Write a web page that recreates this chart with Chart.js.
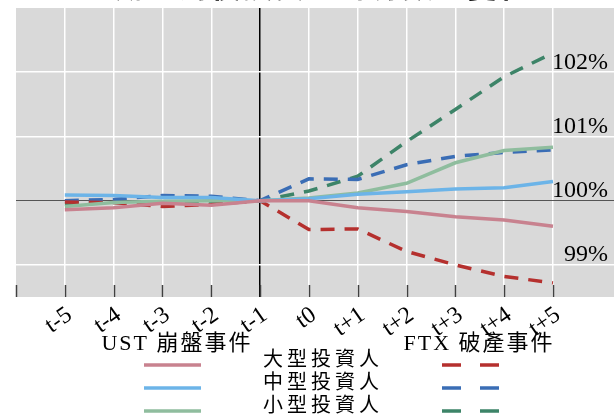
<!DOCTYPE html>
<html>
<head>
<meta charset="utf-8">
<script src="https://cdn.jsdelivr.net/npm/chart.js@4.4.1/dist/chart.umd.min.js"></script>
<style>
  html, body { margin: 0; padding: 0; background: #fff; }
  #wrap { width: 614px; height: 414px; position: relative; }
</style>
</head>
<body>
<div id="wrap"><canvas id="myChart" width="614" height="414"></canvas></div>
<script>
// -------------  DATA  -------------
const titleText   = '崩盤前後投資人持有數量變化';
const periods     = ['t-5', 't-4', 't-3', 't-2', 't-1', 't0', 't+1', 't+2', 't+3', 't+4', 't+5'];
const periodIndex = [-5, -4, -3, -2, -1, 0, 1, 2, 3, 4, 5];
const yTicks      = [99, 100, 101, 102];
const groupNames  = ['大型投資人', '中型投資人', '小型投資人'];
const eventNames  = ['UST 崩盤事件', 'FTX 破產事件'];

// UST (solid)
const ustLarge  = [99.86, 99.89, 99.96, 99.93, 100.0, 100.0, 99.89, 99.83, 99.75, 99.70, 99.60];
const ustMid    = [100.09, 100.08, 100.05, 100.05, 100.0, 100.03, 100.10, 100.14, 100.18, 100.20, 100.30];
const ustSmall  = [99.91, 99.97, 99.99, 100.0, 100.0, 100.04, 100.12, 100.27, 100.59, 100.78, 100.83];
// FTX (dashed)
const ftxLarge  = [99.98, 99.97, 99.91, 99.94, 100.0, 99.55, 99.56, 99.21, 99.00, 98.82, 98.72];
const ftxMid    = [100.0, 100.02, 100.08, 100.07, 100.0, 100.34, 100.33, 100.56, 100.69, 100.75, 100.79];
const ftxSmall  = [99.95, 99.97, 99.98, 99.97, 100.0, 100.15, 100.38, 100.92, 101.42, 101.93, 102.30];

const solidColors  = ['#C8828F', '#6CB4E8', '#8FBD9E'];
const dashedColors = ['#B5302E', '#3A6DB5', '#3D8468'];
const DASH = [14, 10];
const SERIF = '"Liberation Serif", "Noto Sans CJK TC", serif';
//============================================================================

function toPoints(values) {
    return values.map((v, i) => ({ x: periodIndex[i], y: v }));
}

function makeSet(label, values, color, dashed) {
    return {
        label: label,
        data: toPoints(values),
        borderColor: color,
        backgroundColor: color,
        borderWidth: 3.5,
        borderDash: dashed ? DASH : [],
        pointRadius: 0,
        tension: 0,
        fill: false
    };
}

const datasets = [
    makeSet('UST ' + groupNames[0], ustLarge, solidColors[0], false),
    makeSet('UST ' + groupNames[1], ustMid,   solidColors[1], false),
    makeSet('UST ' + groupNames[2], ustSmall, solidColors[2], false),
    makeSet('FTX ' + groupNames[0], ftxLarge, dashedColors[0], true),
    makeSet('FTX ' + groupNames[1], ftxMid,   dashedColors[1], true),
    makeSet('FTX ' + groupNames[2], ftxSmall, dashedColors[2], true)
];

// gray panel behind the plot
const panelBg = {
    id: 'panelBg',
    beforeDraw(chart) {
        const { ctx, chartArea: a } = chart;
        ctx.save();
        ctx.fillStyle = '#D9D9D9';
        ctx.fillRect(a.left, a.top, a.right - a.left, a.bottom - a.top);
        ctx.restore();
    }
};

// tick marks point up into the plot from its bottom edge
const innerTicks = {
    id: 'innerTicks',
    beforeDatasetsDraw(chart) {
        const { ctx, chartArea: a } = chart;
        const xs = chart.scales.x;
        ctx.save();
        ctx.strokeStyle = '#404040';
        ctx.lineWidth = 1.5;
        xs.ticks.forEach(t => {
            const px = Math.round(xs.getPixelForValue(t.value)) + 0.5;
            ctx.beginPath();
            ctx.moveTo(px, a.bottom);
            ctx.lineTo(px, a.bottom - 12);
            ctx.stroke();
        });
        ctx.restore();
    }
};

// cropped title + two-column legend under the axis
const extras = {
    id: 'extras',
    afterDraw(chart) {
        const ctx = chart.ctx;
        ctx.save();
        ctx.fillStyle = '#000';
        ctx.textAlign = 'center';
        ctx.textBaseline = 'bottom';
        ctx.font = 'bold 30px ' + SERIF;
        ctx.letterSpacing = '2px';
        ctx.fillText(titleText, 323, 4);

        ctx.textBaseline = 'middle';
        ctx.font = '22px ' + SERIF;
        ctx.letterSpacing = '2px';
        ctx.fillText(eventNames[0], 177, 344);
        ctx.fillText(eventNames[1], 479, 344);

        ctx.font = '20px ' + SERIF;
        ctx.letterSpacing = '4px';
        groupNames.forEach((name, i) => {
            const ty = 361 + i * 23;
            const ly = 365 + i * 23;
            ctx.fillStyle = '#000';
            ctx.fillText(name, 323, ty);

            ctx.lineWidth = 3.5;
            ctx.strokeStyle = solidColors[i];
            ctx.setLineDash([]);
            ctx.beginPath();
            ctx.moveTo(144, ly);
            ctx.lineTo(201, ly);
            ctx.stroke();

            ctx.strokeStyle = dashedColors[i];
            ctx.setLineDash([19, 19]);
            ctx.beginPath();
            ctx.moveTo(442, ly);
            ctx.lineTo(500, ly);
            ctx.stroke();
        });
        ctx.restore();
    }
};

const ctx = document.getElementById('myChart').getContext('2d');
const chart = new Chart(ctx, {
    type: 'line',
    data: { datasets: datasets },
    plugins: [panelBg, innerTicks, extras],
    options: {
        responsive: false,
        animation: false,
        devicePixelRatio: 1,
        layout: { padding: { left: 16, top: 8, right: 0, bottom: 0 } },
        plugins: {
            legend: { display: false },
            title: { display: false },
            tooltip: { enabled: false }
        },
        scales: {
            x: {
                type: 'linear',
                min: -6,
                max: 6.25,
                afterBuildTicks: s => { s.ticks = [-6].concat(periodIndex).map(v => ({ value: v })); },
                afterFit: s => { s.height = 117; s.paddingLeft = 0; s.paddingRight = 0; },
                border: { display: false },
                grid: {
                    drawTicks: false,
                    lineWidth: 1.5,
                    color: c => {
                        const v = c.tick ? c.tick.value : null;
                        if (v === -6) return 'rgba(0,0,0,0)';
                        if (v === -1) return '#000';
                        return '#FFFFFF';
                    }
                },
                ticks: {
                    autoSkip: false,
                    minRotation: 35,
                    maxRotation: 35,
                    padding: 4,
                    labelOffset: 5,
                    color: '#000',
                    font: { size: 24, family: SERIF },
                    callback: v => {
                        const i = periodIndex.indexOf(v);
                        return i >= 0 ? periods[i] : '';
                    }
                }
            },
            y: {
                position: 'right',
                min: 98.5,
                max: 103,
                afterBuildTicks: s => { s.ticks = yTicks.map(v => ({ value: v })); },
                afterFit: s => { s.width = 0; s.paddingTop = 0; s.paddingBottom = 0; },
                border: { display: false },
                grid: {
                    drawTicks: false,
                    lineWidth: c => (c.tick && c.tick.value === 100 ? 1 : 1.5),
                    color: c => (c.tick && c.tick.value === 100 ? '#555555' : '#FFFFFF')
                },
                ticks: {
                    mirror: true,
                    padding: -6,
                    labelOffset: -10,
                    color: '#000',
                    font: { size: 24, family: SERIF },
                    callback: v => v + '%'
                }
            }
        }
    }
});
</script>
</body>
</html>
